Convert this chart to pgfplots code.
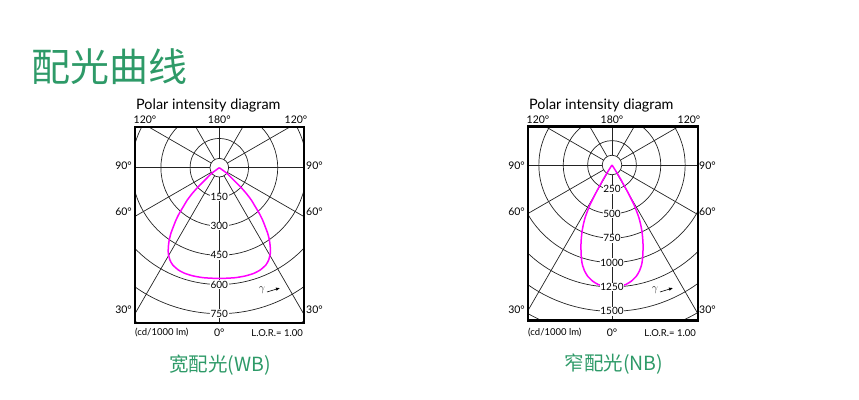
\documentclass[border=0pt]{standalone}
\usepackage{fontspec}
\setmainfont{Lato}
\newfontfamily\cjk{Noto Sans CJK SC}
\usepackage{pgfplots}
\pgfplotsset{compat=1.18}
\usepackage{pgfplotstable}
\usetikzlibrary{arrows.meta}
\definecolor{titlegreen}{RGB}{46,154,104}
\definecolor{gridc}{RGB}{35,35,35}
\definecolor{mag}{RGB}{255,0,255}

% wide beam: gamma (deg), intensity (cd/1000 lm)
\pgfplotstableread{
g I
-56 0
-53.5 49
-49.3 97
-47.9 146
-46.4 191
-44.7 234
-42.7 273
-41.2 312
-39.6 349
-37.9 384
-36.4 419
-34.7 452
-32.8 483
-30.8 512
-28.1 538
-25.6 554
-21.8 566
-18.0 571
-13.5 572
-8.3 571
-3.1 569
0 569
3.1 569
8.3 571
13.5 572
18.0 571
21.8 566
25.6 554
28.1 538
30.8 512
32.8 483
34.7 452
36.4 419
37.9 384
39.6 349
41.2 312
42.7 273
44.7 234
46.4 191
47.9 146
49.3 97
53.5 49
56 0
}\wbdata

% narrow beam
\pgfplotstableread{
g I
-33.0 0
-32.3 77
-31.6 156
-30.7 234
-30.2 312
-29.5 388
-29.0 465
-28.0 538
-27.0 609
-25.7 678
-24.3 746
-22.8 811
-21.3 876
-19.75 940
-18.25 1003
-16.6 1065
-14.4 1125
-12.3 1168
-9.4 1208
-6.5 1234
-3.3 1245
0 1250
3.3 1245
6.5 1234
9.4 1208
12.3 1168
14.4 1125
16.6 1065
18.25 1003
19.75 940
21.3 876
22.8 811
24.3 746
25.7 678
27.0 609
28.0 538
29.0 465
29.5 388
30.2 312
30.7 234
31.6 156
32.3 77
33.0 0
}\nbdata

\pgfplotsset{polarbox/.style={
  scale only axis, xtick=\empty, ytick=\empty,
  axis line style={black, line width=2.4pt},
  axis on top, clip=true,
}}

\begin{document}
\begin{tikzpicture}[x=1pt,y=1pt]
\path[use as bounding box] (0pt,0pt) rectangle (859pt,399pt);

% ---------- left diagram (WB) ----------
\begin{axis}[polarbox, at={(135pt,272pt)}, anchor=north west,
  width=169pt, height=196pt,
  xmin=-433.0, xmax=435.1, ymin=-797.8, ymax=209.1]
\pgfplotsinvokeforeach{150,300,450,600,750,900}{
  \draw[gridc, line width=0.7pt] (axis cs:0,0) circle[x radius=#1, y radius=#1];
}
\draw[gridc, line width=0.7pt] (axis cs:0,0) circle[x radius=48, y radius=48];
\pgfplotsinvokeforeach{0,30,60,90,120,150,180,210,240,270,300,330}{
  \draw[gridc, line width=0.7pt] (axis cs:{48*cos(#1)},{48*sin(#1)}) -- (axis cs:{3000*cos(#1)},{3000*sin(#1)});
}
\addplot[mag, line width=1.5pt, smooth, tension=0.35]
  table[x expr={\thisrow{I}*sin(\thisrow{g})}, y expr={-\thisrow{I}*cos(\thisrow{g})}] {\wbdata};
\pgfplotsinvokeforeach{150,300,450,600,750}{
  \node[fill=white, inner sep=0.7pt, font=\fontsize{10}{10}\selectfont] at (axis cs:0,-#1) {#1};
}
\end{axis}

% ---------- right diagram (NB) ----------
\begin{axis}[polarbox, at={(527.7pt,272.3pt)}, anchor=north west,
  width=170pt, height=194pt,
  xmin=-864.3, xmax=878.7, ymin=-1596.4, ymax=392.7]
\pgfplotsinvokeforeach{250,500,750,1000,1250,1500,1750}{
  \draw[gridc, line width=0.7pt] (axis cs:0,0) circle[x radius=#1, y radius=#1];
}
\draw[gridc, line width=0.7pt] (axis cs:0,0) circle[x radius=100, y radius=100];
\pgfplotsinvokeforeach{0,30,60,90,120,150,180,210,240,270,300,330}{
  \draw[gridc, line width=0.7pt] (axis cs:{100*cos(#1)},{100*sin(#1)}) -- (axis cs:{6000*cos(#1)},{6000*sin(#1)});
}
\addplot[mag, line width=1.5pt, smooth, tension=0.35]
  table[x expr={\thisrow{I}*sin(\thisrow{g})}, y expr={-\thisrow{I}*cos(\thisrow{g})}] {\nbdata};
\pgfplotsinvokeforeach{250,500,750,1000,1250,1500}{
  \node[fill=white, inner sep=0.7pt, font=\fontsize{10}{10}\selectfont] at (axis cs:0,-#1) {#1};
}
\end{axis}

% ---------- texts (image coordinates) ----------
\begin{scope}[yshift=399pt, yscale=-1]
\node[anchor=west, text=titlegreen, font=\cjk\fontsize{39}{40}\selectfont, inner sep=0] at (31,67) {配光曲线};

\foreach \ox/\cx in {0/219.3, 393/612}{
  \node[anchor=west, inner sep=0, font=\fontsize{14.4}{15}\selectfont] at (136+\ox,106) {Polar intensity diagram};
  \node[inner sep=0, font=\fontsize{10.5}{11}\selectfont] at (145+\ox,120) {120°};
  \node[inner sep=0, font=\fontsize{10.5}{11}\selectfont] at (\cx,120) {180°};
  \node[inner sep=0, font=\fontsize{10.5}{11}\selectfont] at (296+\ox,120) {120°};
  \node[anchor=east, inner sep=0, font=\fontsize{10.5}{11}\selectfont] at (132+\ox,166) {90°};
  \node[anchor=east, inner sep=0, font=\fontsize{10.5}{11}\selectfont] at (132+\ox,212) {60°};
  \node[anchor=east, inner sep=0, font=\fontsize{10.5}{11}\selectfont] at (132+\ox,310) {30°};
  \node[anchor=west, inner sep=0, font=\fontsize{10.5}{11}\selectfont] at (306+\ox,166) {90°};
  \node[anchor=west, inner sep=0, font=\fontsize{10.5}{11}\selectfont] at (306+\ox,212) {60°};
  \node[anchor=west, inner sep=0, font=\fontsize{10.5}{11}\selectfont] at (306+\ox,310) {30°};
  \node[anchor=west, inner sep=0, font=\fontsize{9.5}{10}\selectfont] at (135+\ox,333) {(cd/1000 lm)};
  \node[inner sep=0, font=\fontsize{10.5}{11}\selectfont] at (\cx,333) {0°};
  \node[anchor=east, inner sep=0, font=\fontsize{9.5}{10}\selectfont] at (303+\ox,333) {L.O.R.= 1.00};
  \node[inner sep=0, text=gridc, font=\fontsize{11}{11}\selectfont] at (262+\ox,290) {$\gamma$};
  \draw[-{Latex[length=4pt,width=3.5pt]}, line width=0.6pt] (267+\ox,292) -- (280+\ox,288);
}
\node[text=titlegreen, font=\cjk\fontsize{19.5}{20}\selectfont, inner sep=0] at (220,365) {宽配光(WB)};
\node[text=titlegreen, font=\cjk\fontsize{19.5}{20}\selectfont, inner sep=0] at (614,364) {窄配光(NB)};
\end{scope}
\end{tikzpicture}
\end{document}
